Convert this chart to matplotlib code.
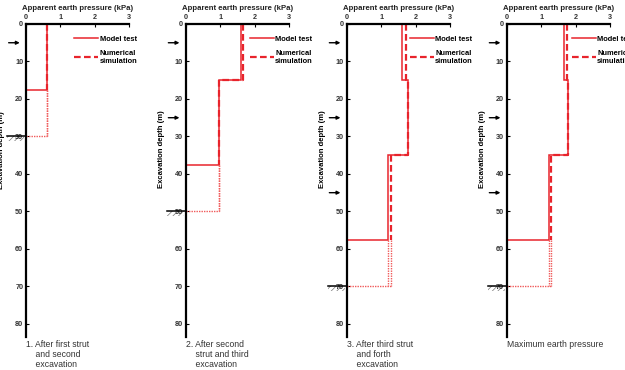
import matplotlib
matplotlib.use('Agg')
import matplotlib.pyplot as plt
from matplotlib.patches import Rectangle
from matplotlib.lines import Line2D

plt.rcParams['font.family'] = ['Liberation Sans', 'DejaVu Sans']
plt.rcParams['hatch.linewidth'] = 0.5

# ---------------- data ----------------
x_ticks = [0, 1, 2, 3]
y_ticks = [0, 10, 20, 30, 40, 50, 60, 70, 80]
x_title = "Apparent earth pressure (kPa)"
y_title = "Excavation depth (m)"
legend_labels = ["Model test", "Numerical\nsimulation"]
captions = ["1. After first strut\n    and second\n    excavation",
            "2. After second\n    strut and third\n    excavation",
            "3. After third strut\n    and forth\n    excavation",
            "Maximum earth pressure"]

# depth breaks (m) of each pressure segment
model_breaks = [[0, 17.5], [0, 15, 37.5], [0, 15, 35, 57.5], [0, 15, 35, 57.5]]
model_p = [[0.6], [1.6, 0.97], [1.62, 1.77, 1.2], [1.65, 1.79, 1.22]]
num_p = [[0.6], [1.67, 0.97], [1.73, 1.78, 1.28], [1.74, 1.79, 1.28]]
excavation = [30, 50, 70, 70]
struts = [[5], [5, 25], [5, 25, 45], [5, 25, 45]]

# ---------------- layout ----------------
W, H = 625, 370
fig = plt.figure(figsize=(W / 100, H / 100), dpi=100)
left_px = [26, 185.7, 346.7, 506.7]
ax_w_px = 103.3
top_px, bot_px = 24, 337
legend_x = [0.466, 0.62, 0.61, 0.63]

RED = '#e8242c'
LRED = '#f05a5a'

for i in range(4):
    ax = fig.add_axes([left_px[i] / W, 1 - bot_px / H, ax_w_px / W, (bot_px - top_px) / H])
    ax.set_xlim(0, 3)
    ax.set_ylim(83.5, 0)
    for s in ['right', 'bottom']:
        ax.spines[s].set_visible(False)
    for s in ['left', 'top']:
        ax.spines[s].set_linewidth(1.6)
    ax.xaxis.tick_top()
    ax.set_xticks(x_ticks)
    ax.set_yticks(y_ticks)
    ax.tick_params(direction='in', length=2.5, width=0.8, labelsize=5.2,
                   labelcolor='#333333', pad=2)
    for lab in ax.get_xticklabels() + ax.get_yticklabels():
        lab.set_fontweight('bold')
    ax.set_title(x_title, fontsize=5.6, fontweight='bold', pad=10, color='#222222')

    mb = model_breaks[i]
    # model test: solid steps, closing back to the wall
    xs, ys = [], []
    for k, p in enumerate(model_p[i]):
        xs += [p, p]
        ys += [mb[k], mb[k + 1]]
    xs.append(0)
    ys.append(mb[-1])
    ax.plot(xs, ys, color=RED, lw=1.1, solid_joinstyle='miter')

    # numerical simulation: dashed steps
    xs, ys = [], []
    for k, p in enumerate(num_p[i]):
        xs += [p, p]
        ys += [mb[k], mb[k + 1]]
    ax.plot(xs, ys, color=RED, lw=1.6, ls=(0, (3, 1.5)))

    # dotted continuation to excavation level
    exc = excavation[i]
    ax.plot([model_p[i][-1]] * 2, [mb[-1], exc], color=LRED, lw=1.0, ls=(0, (1, 0.8)))
    ax.plot([num_p[i][-1]] * 2, [mb[-1], exc], color=LRED, lw=1.0, ls=(0, (1, 0.8)))
    ax.plot([0, max(num_p[i][-1], model_p[i][-1])], [exc, exc], color=LRED, lw=1.0,
            ls=(0, (1, 0.8)))

    # excavation level marker
    ax.plot([-0.55, 0], [exc, exc], color='black', lw=1.1, clip_on=False)
    ax.add_patch(Rectangle((-0.55, exc), 0.5, 1.3, hatch='//////', fill=False,
                           edgecolor='#777777', lw=0, clip_on=False))

    # strut arrows
    for d in struts[i]:
        ax.annotate('', xy=(0, d), xycoords='data', xytext=(-12.5, 0),
                    textcoords='offset points',
                    arrowprops=dict(arrowstyle='-|>', color='black', lw=1.0,
                                    mutation_scale=5, shrinkA=0, shrinkB=4.5),
                    annotation_clip=False)
    if i == 0:
        ax.annotate('Strut', xy=(0, struts[0][0]), xytext=(-19, 0),
                    textcoords='offset points', ha='right', va='center',
                    fontsize=5.5, annotation_clip=False)

    # y label
    if i == 0:
        fig.text(0.002, 1 - 150 / H, y_title, rotation=90, ha='center', va='center',
                 fontsize=5.5, fontweight='bold')
    else:
        ax.set_ylabel(y_title, fontsize=5.5, fontweight='bold', labelpad=4)
        ax.yaxis.set_label_coords(-0.2, 0.6)

    # legend
    handles = [Line2D([], [], color=RED, lw=1.1),
               Line2D([], [], color=RED, lw=1.6, ls=(0, (3, 1.5)))]
    ax.legend(handles, legend_labels, loc='upper left',
              bbox_to_anchor=(legend_x[i], 0.963), frameon=False,
              prop={'size': 5.4, 'weight': 'bold'}, handlelength=3.2,
              handletextpad=0.2, labelspacing=0.9, borderpad=0, borderaxespad=0)

    # caption
    fig.text(left_px[i] / W, 1 - 340 / H, captions[i], ha='left', va='top',
             fontsize=6.2, color='#333333', linespacing=1.15)

fig.savefig('out.png', dpi=100)
